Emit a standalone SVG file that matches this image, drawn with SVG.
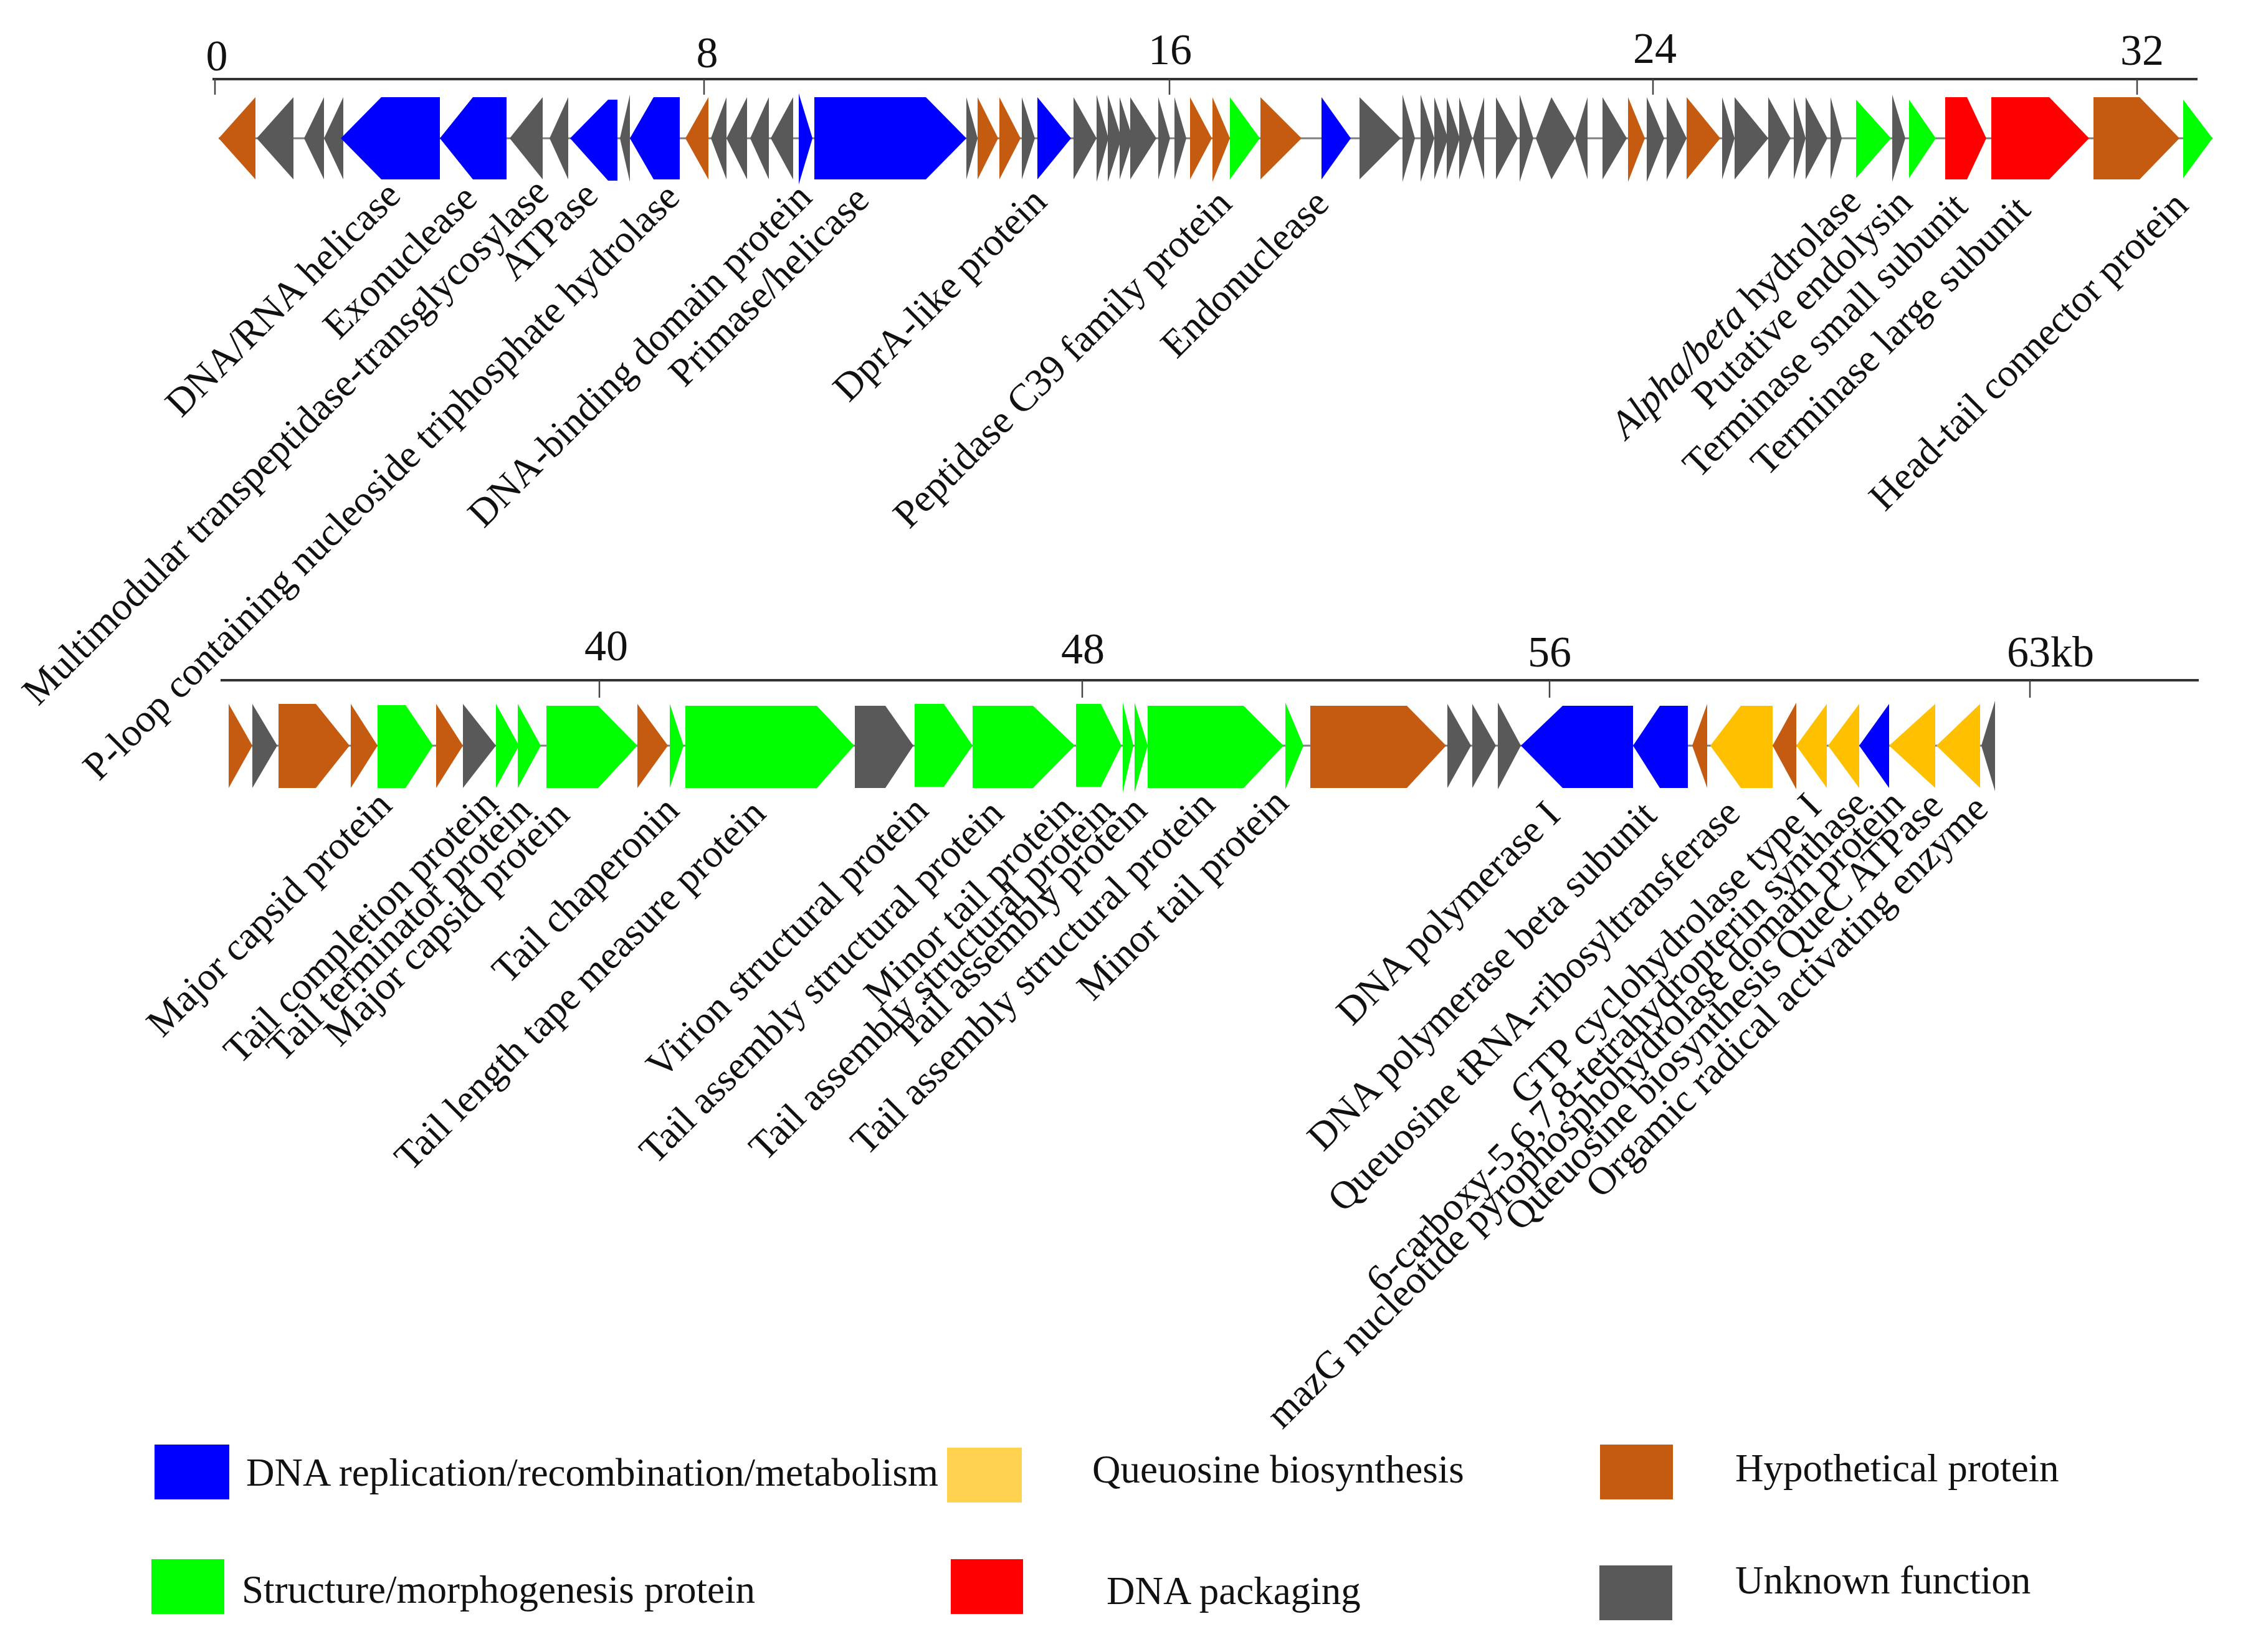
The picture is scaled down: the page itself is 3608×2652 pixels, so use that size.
<svg xmlns="http://www.w3.org/2000/svg" width="3608" height="2652" viewBox="0 0 3608 2652">
<style>
.b{fill:#0000ff}.o{fill:#c55a11}.k{fill:#595959}.g{fill:#00ff00}.r{fill:#ff0000}.y{fill:#ffc000}.yl{fill:#ffd24f}
.axis{stroke:#333;stroke-width:4;fill:none}
.tick{stroke:#444;stroke-width:2.5}
.bb{stroke:#7f7f7f;stroke-width:3}
.num{font-family:"Liberation Serif",serif;font-size:70px;text-anchor:middle;fill:#111}
.lbl{font-family:"Liberation Serif",serif;font-size:63px;text-anchor:end;fill:#111}
.leg{font-family:"Liberation Serif",serif;font-size:63px;fill:#111}
</style>
<rect width="3608" height="2652" fill="#fff"/>
<g id="scale-top">
<line class="axis" x1="341" y1="127" x2="3527" y2="127"/>
<line class="tick" x1="345" y1="127" x2="345" y2="152"/>
<line class="tick" x1="1130" y1="127" x2="1130" y2="152"/>
<line class="tick" x1="1877" y1="127" x2="1877" y2="152"/>
<line class="tick" x1="2653" y1="127" x2="2653" y2="152"/>
<line class="tick" x1="3430" y1="127" x2="3430" y2="152"/>
<text class="num" x="348" y="113">0</text>
<text class="num" x="1135" y="108">8</text>
<text class="num" x="1878" y="103">16</text>
<text class="num" x="2656" y="101">24</text>
<text class="num" x="3438" y="104">32</text>
</g>
<g id="scale-bottom">
<line class="axis" x1="354" y1="1092" x2="3529" y2="1092"/>
<line class="tick" x1="962" y1="1092" x2="962" y2="1120"/>
<line class="tick" x1="1737" y1="1092" x2="1737" y2="1120"/>
<line class="tick" x1="2487" y1="1092" x2="2487" y2="1120"/>
<line class="tick" x1="3258" y1="1092" x2="3258" y2="1120"/>
<text class="num" x="973" y="1060">40</text>
<text class="num" x="1738" y="1065">48</text>
<text class="num" x="2487" y="1070">56</text>
<text class="num" x="3291" y="1070">63kb</text>
</g>
<g id="connectors">
<line class="bb" x1="351" y1="222" x2="3551" y2="222"/>
<line class="bb" x1="367" y1="1197" x2="3202" y2="1197"/>
</g>
<g id="genes-top">
<polygon id="t1" class="o" points="351,222 410,156 410,288"/>
<polygon id="t2" class="k" points="412,222 471,156 471,288"/>
<polygon id="t3" class="k" points="488,222 520,156 520,288"/>
<polygon id="t4" class="k" points="520,222 551,156 551,288"/>
<polygon id="t5" class="b" points="547,222 612,156 706,156 706,288 612,288"/>
<polygon id="t6" class="b" points="706,222 759,156 813,156 813,288 759,288"/>
<polygon id="t7" class="k" points="818,222 871,156 871,288"/>
<polygon id="t8" class="k" points="882,222 912,156 912,288"/>
<polygon id="t9" class="b" points="915,222 976,160 991,160 991,290 976,290"/>
<polygon id="t10" class="k" points="995,222 1011,152 1011,292"/>
<polygon id="t11" class="b" points="1011,222 1049,156 1091,156 1091,288 1049,288"/>
<polygon id="t12" class="o" points="1100,222 1137,156 1137,288"/>
<polygon id="t13" class="k" points="1141,222 1166,156 1166,288"/>
<polygon id="t14" class="k" points="1166,222 1199,156 1199,288"/>
<polygon id="t15" class="k" points="1204,222 1234,156 1234,288"/>
<polygon id="t16" class="k" points="1237,222 1273,156 1273,288"/>
<polygon id="t17" class="b" points="1282,150 1304,222 1282,296"/>
<polygon id="t18" class="b" points="1307,156 1486,156 1551,222 1486,288 1307,288"/>
<polygon id="t19" class="k" points="1551,156 1569,222 1551,288"/>
<polygon id="t20" class="o" points="1569,156 1602,222 1569,288"/>
<polygon id="t21" class="o" points="1604,156 1638,222 1604,288"/>
<polygon id="t22" class="k" points="1640,156 1661,222 1640,288"/>
<polygon id="t23" class="b" points="1665,156 1719,222 1665,288"/>
<polygon id="t24" class="k" points="1723,156 1760,222 1723,288"/>
<polygon id="t25" class="k" points="1760,152 1779,222 1760,292"/>
<polygon id="t26" class="k" points="1778,152 1800,222 1778,292"/>
<polygon id="t27" class="k" points="1797,156 1818,222 1797,288"/>
<polygon id="t28" class="k" points="1814,156 1856,222 1814,288"/>
<polygon id="t29" class="k" points="1859,156 1878,222 1859,288"/>
<polygon id="t30" class="k" points="1885,156 1904,222 1885,288"/>
<polygon id="t31" class="o" points="1910,156 1945,222 1910,288"/>
<polygon id="t32" class="o" points="1946,156 1974,222 1946,292"/>
<polygon id="t33" class="g" points="1974,156 2022,222 1974,288"/>
<polygon id="t34" class="o" points="2023,156 2089,222 2023,288"/>
<polygon id="t35" class="b" points="2121,156 2168,222 2121,288"/>
<polygon id="t36" class="k" points="2182,156 2248,222 2182,288"/>
<polygon id="t37" class="k" points="2251,152 2271,222 2251,292"/>
<polygon id="t38" class="k" points="2280,152 2302,222 2280,292"/>
<polygon id="t39" class="k" points="2302,156 2324,222 2302,288"/>
<polygon id="t40" class="k" points="2322,156 2343,222 2322,288"/>
<polygon id="t41" class="k" points="2342,156 2363,222 2342,288"/>
<polygon id="t42" class="k" points="2364,222 2382,156 2382,288"/>
<polygon id="t43" class="k" points="2401,156 2436,222 2401,288"/>
<polygon id="t44" class="k" points="2439,152 2461,222 2439,292"/>
<polygon id="t45" class="k" points="2465,222 2490,156 2490,288"/>
<polygon id="t46" class="k" points="2490,156 2528,222 2490,288"/>
<polygon id="t47" class="k" points="2528,222 2548,156 2548,288"/>
<polygon id="t48" class="k" points="2572,156 2611,222 2572,288"/>
<polygon id="t49" class="o" points="2613,156 2640,222 2613,292"/>
<polygon id="t50" class="k" points="2643,156 2671,222 2643,292"/>
<polygon id="t51" class="k" points="2675,156 2707,222 2675,288"/>
<polygon id="t52" class="o" points="2707,156 2761,222 2707,288"/>
<polygon id="t53" class="k" points="2764,156 2784,222 2764,288"/>
<polygon id="t54" class="k" points="2784,156 2838,222 2784,288"/>
<polygon id="t55" class="k" points="2838,156 2874,222 2838,288"/>
<polygon id="t56" class="k" points="2879,156 2898,222 2879,288"/>
<polygon id="t57" class="k" points="2898,156 2933,222 2898,288"/>
<polygon id="t58" class="k" points="2938,156 2956,222 2938,288"/>
<polygon id="t59" class="g" points="2979,160 3035,222 2979,286"/>
<polygon id="t60" class="k" points="3037,152 3058,222 3037,292"/>
<polygon id="t61" class="g" points="3064,160 3107,222 3064,286"/>
<polygon id="t62" class="r" points="3122,156 3157,156 3188,222 3157,288 3122,288"/>
<polygon id="t63" class="r" points="3196,156 3289,156 3353,222 3289,288 3196,288"/>
<polygon id="t64" class="o" points="3360,156 3434,156 3498,222 3434,288 3360,288"/>
<polygon id="t65" class="g" points="3504,160 3551,222 3504,286"/>
</g>
<g id="genes-bottom">
<polygon id="b1" class="o" points="367,1130 405,1197 367,1265"/>
<polygon id="b2" class="k" points="405,1130 445,1197 405,1265"/>
<polygon id="b3" class="o" points="447,1130 507,1130 561,1197 507,1265 447,1265"/>
<polygon id="b4" class="o" points="563,1130 606,1197 563,1265"/>
<polygon id="b5" class="g" points="606,1132 651,1132 695,1197 651,1265 606,1265"/>
<polygon id="b6" class="o" points="700,1130 743,1197 700,1265"/>
<polygon id="b7" class="k" points="743,1130 796,1197 743,1265"/>
<polygon id="b8" class="g" points="796,1130 833,1197 796,1265"/>
<polygon id="b9" class="g" points="831,1130 868,1197 831,1265"/>
<polygon id="b10" class="g" points="877,1133 960,1133 1023,1197 960,1265 877,1265"/>
<polygon id="b11" class="o" points="1023,1130 1072,1197 1023,1265"/>
<polygon id="b12" class="g" points="1075,1130 1097,1197 1075,1265"/>
<polygon id="b13" class="g" points="1100,1133 1311,1133 1371,1197 1311,1265 1100,1265"/>
<polygon id="b14" class="k" points="1372,1133 1421,1133 1466,1197 1421,1265 1372,1265"/>
<polygon id="b15" class="g" points="1468,1130 1515,1130 1561,1197 1515,1263 1468,1263"/>
<polygon id="b16" class="g" points="1561,1133 1658,1133 1725,1197 1658,1265 1561,1265"/>
<polygon id="b17" class="g" points="1727,1130 1767,1130 1800,1197 1767,1263 1727,1263"/>
<polygon id="b18" class="g" points="1802,1128 1819,1197 1802,1272"/>
<polygon id="b19" class="g" points="1821,1128 1842,1197 1821,1272"/>
<polygon id="b20" class="g" points="1842,1133 1996,1133 2060,1197 1996,1265 1842,1265"/>
<polygon id="b21" class="g" points="2063,1128 2092,1197 2063,1267"/>
<polygon id="b22" class="o" points="2103,1133 2258,1133 2321,1197 2258,1265 2103,1265"/>
<polygon id="b23" class="k" points="2323,1130 2361,1197 2323,1265"/>
<polygon id="b24" class="k" points="2363,1130 2401,1197 2363,1265"/>
<polygon id="b25" class="k" points="2404,1128 2441,1197 2404,1267"/>
<polygon id="b26" class="b" points="2441,1197 2508,1133 2621,1133 2621,1265 2508,1265"/>
<polygon id="b27" class="b" points="2621,1197 2664,1133 2709,1133 2709,1265 2664,1265"/>
<polygon id="b28" class="o" points="2716,1197 2740,1130 2740,1265"/>
<polygon id="b29" class="y" points="2745,1197 2794,1133 2845,1133 2845,1265 2794,1265"/>
<polygon id="b30" class="o" points="2845,1197 2883,1128 2883,1267"/>
<polygon id="b31" class="y" points="2883,1197 2932,1130 2932,1265"/>
<polygon id="b32" class="y" points="2934,1197 2984,1130 2984,1265"/>
<polygon id="b33" class="b" points="2984,1197 3032,1130 3032,1265"/>
<polygon id="b34" class="y" points="3032,1197 3106,1130 3106,1265"/>
<polygon id="b35" class="y" points="3108,1197 3178,1130 3178,1265"/>
<polygon id="b36" class="k" points="3180,1197 3202,1125 3202,1270"/>
</g>
<g id="labels-top" transform="translate(-10,-10)">
<text class="lbl" x="656" y="327" transform="rotate(-45 656 327)">DNA/RNA helicase</text>
<text class="lbl" x="779" y="332" transform="rotate(-45 779 332)">Exonuclease</text>
<text class="lbl" x="894" y="322" transform="rotate(-45 894 322)">Multimodular transpeptidase-transglycosylase</text>
<text class="lbl" x="973" y="327" transform="rotate(-45 973 327)">ATPase</text>
<text class="lbl" x="1104" y="330" transform="rotate(-45 1104 330)">P-loop containing nucleoside triphosphate hydrolase</text>
<text class="lbl" x="1316" y="330" transform="rotate(-45 1316 330)">DNA-binding domain protein</text>
<text class="lbl" x="1408" y="334" transform="rotate(-45 1408 334)">Primase/helicase</text>
<text class="lbl" x="1693" y="337" transform="rotate(-45 1693 337)">DprA-like protein</text>
<text class="lbl" x="1990" y="340" transform="rotate(-45 1990 340)">Peptidase C39 family protein</text>
<text class="lbl" x="2146" y="340" transform="rotate(-45 2146 340)">Endonuclease</text>
<text class="lbl" x="3000" y="337" transform="rotate(-45 3000 337)"><tspan font-style="italic">Alpha/beta</tspan> hydrolase</text>
<text class="lbl" x="3082" y="339" transform="rotate(-45 3082 339)">Putative endolysin</text>
<text class="lbl" x="3171" y="345" transform="rotate(-45 3171 345)">Terminase small subunit</text>
<text class="lbl" x="3272" y="350" transform="rotate(-45 3272 350)">Terminase large subunit</text>
<text class="lbl" x="3525" y="343" transform="rotate(-45 3525 343)">Head-tail connector protein</text>
</g>
<g id="labels-bottom" transform="translate(-10,-10)">
<text class="lbl" x="642" y="1306" transform="rotate(-45 642 1306)">Major capsid protein</text>
<text class="lbl" x="812" y="1303" transform="rotate(-45 812 1303)">Tail completion protein</text>
<text class="lbl" x="866" y="1314" transform="rotate(-45 866 1314)">Tail terminator protein</text>
<text class="lbl" x="927" y="1321" transform="rotate(-45 927 1321)">Major capsid protein</text>
<text class="lbl" x="1103" y="1314" transform="rotate(-45 1103 1314)">Tail chaperonin</text>
<text class="lbl" x="1242" y="1319" transform="rotate(-45 1242 1319)">Tail length tape measure protein</text>
<text class="lbl" x="1503" y="1314" transform="rotate(-45 1503 1314)">Virion structural protein</text>
<text class="lbl" x="1624" y="1319" transform="rotate(-45 1624 1319)">Tail assembly structural protein</text>
<text class="lbl" x="1739" y="1312" transform="rotate(-45 1739 1312)">Minor tail protein</text>
<text class="lbl" x="1800" y="1314" transform="rotate(-45 1800 1314)">Tail assembly structural protein</text>
<text class="lbl" x="1854" y="1314" transform="rotate(-45 1854 1314)">Tail assembly protein</text>
<text class="lbl" x="1963" y="1305" transform="rotate(-45 1963 1305)">Tail assembly structural protein</text>
<text class="lbl" x="2081" y="1302" transform="rotate(-45 2081 1302)">Minor tail protein</text>
<text class="lbl" x="2517" y="1322" transform="rotate(-45 2517 1322)">DNA polymerase I</text>
<text class="lbl" x="2672" y="1322" transform="rotate(-45 2672 1322)">DNA polymerase beta subunit</text>
<text class="lbl" x="2806" y="1319" transform="rotate(-45 2806 1319)">Queuosine tRNA-ribosyltransferase</text>
<text class="lbl" x="2936" y="1309" transform="rotate(-45 2936 1309)">GTP cyclohydrolase type I</text>
<text class="lbl" x="3012" y="1304" transform="rotate(-45 3012 1304)">6-carboxy-5,6,7,8-tetrahydropterin synthase</text>
<text class="lbl" x="3070" y="1304" transform="rotate(-45 3070 1304)">mazG nucleotide pyrophosphohydrolase domain protein</text>
<text class="lbl" x="3132" y="1307" transform="rotate(-45 3132 1307)">Queuosine biosynthesis QueC ATPase</text>
<text class="lbl" x="3204" y="1312" transform="rotate(-45 3204 1312)">Orgamic radical activating enzyme</text>
</g>
<g id="legend">
<g id="leg-dna"><rect class="b" x="248" y="2319" width="120" height="88"/><text class="leg" x="395" y="2385">DNA replication/recombination/metabolism</text></g>
<g id="leg-queuosine"><rect class="yl" x="1520" y="2324" width="120" height="88"/><text class="leg" x="1753" y="2380">Queuosine biosynthesis</text></g>
<g id="leg-hypo"><rect class="o" x="2568" y="2319" width="117" height="88"/><text class="leg" x="2785" y="2378">Hypothetical protein</text></g>
<g id="leg-struct"><rect class="g" x="243" y="2503" width="117" height="88"/><text class="leg" x="388" y="2573">Structure/morphogenesis protein</text></g>
<g id="leg-pack"><rect class="r" x="1526" y="2503" width="116" height="88"/><text class="leg" x="1776" y="2575">DNA packaging</text></g>
<g id="leg-unknown"><rect class="k" x="2567" y="2513" width="117" height="88"/><text class="leg" x="2785" y="2558">Unknown function</text></g>
</g>
</svg>
